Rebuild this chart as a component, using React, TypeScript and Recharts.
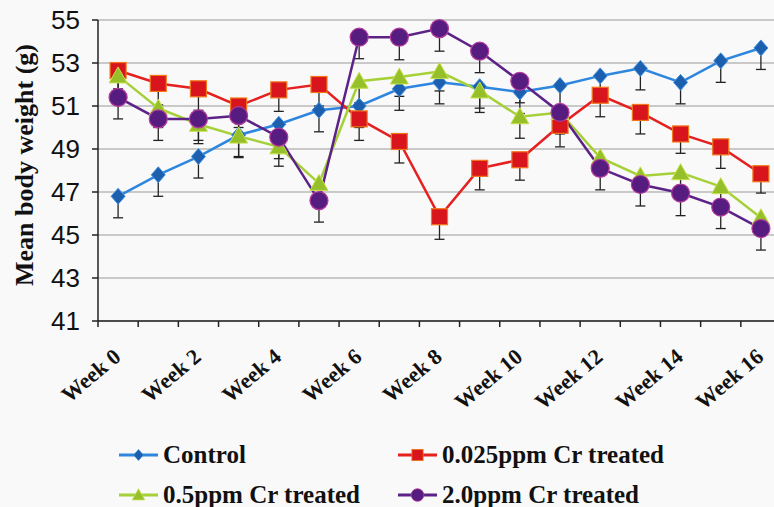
import React from 'react'
import {
  LineChart,
  Line,
  XAxis,
  YAxis,
  CartesianGrid,
  ErrorBar,
  Label,
} from 'recharts'

const weeks = [
  'Week 0', 'Week 1', 'Week 2', 'Week 3', 'Week 4', 'Week 5', 'Week 6', 'Week 7', 'Week 8',
  'Week 9', 'Week 10', 'Week 11', 'Week 12', 'Week 13', 'Week 14', 'Week 15', 'Week 16',
]
const yTicks = [41, 43, 45, 47, 49, 51, 53, 55]

const control = [46.8, 47.8, 48.65, 49.65, 50.15, 50.8, 51.0, 51.8, 52.1, 51.9, 51.65, 51.95, 52.4, 52.75, 52.1, 53.1, 53.7]
const controlErr = [1.0, 1.0, 1.0, 1.0, 1.0, 1.0, 1.0, 1.0, 1.0, 1.0, 1.0, 1.0, 1.0, 1.0, 1.0, 1.0, 1.0]
const cr0025 = [52.65, 52.05, 51.8, 51.0, 51.75, 52.0, 50.4, 49.35, 45.85, 48.1, 48.5, 50.1, 51.5, 50.7, 49.7, 49.1, 47.85]
const cr0025Err = [1.0, 1.0, 1.0, 1.0, 1.0, 1.0, 1.0, 1.0, 1.05, 1.0, 0.95, 1.0, 1.0, 1.0, 0.9, 1.0, 0.9]
const cr05 = [52.4, 50.9, 50.15, 49.6, 49.1, 47.4, 52.15, 52.35, 52.6, 51.7, 50.5, 50.7, 48.6, 47.75, 47.9, 47.25, 45.8]
const cr05Err = [0.6, 0.9, 0.9, 1.0, 0.9, 0.9, 1.0, 0.9, 0.9, 1.0, 1.0, 0.6, 0.6, 0.6, 0.6, 0.6, 0.6]
const cr20 = [51.4, 50.4, 50.4, 50.55, 49.55, 46.6, 54.2, 54.2, 54.6, 53.55, 52.15, 50.7, 48.1, 47.35, 46.95, 46.3, 45.3]
const cr20Err = [1.0, 1.0, 1.0, 1.0, 1.0, 1.0, 1.0, 1.05, 1.05, 1.0, 1.0, 1.0, 1.0, 1.0, 1.05, 1.0, 1.0]

const data = weeks.map((week, i) => ({
  week,
  control: control[i],
  controlErr: [controlErr[i], 0],
  cr0025: cr0025[i],
  cr0025Err: [cr0025Err[i], 0],
  cr05: cr05[i],
  cr05Err: [cr05Err[i], 0],
  cr20: cr20[i],
  cr20Err: [cr20Err[i], 0],
}))

const serif = '"Liberation Serif", "Times New Roman", serif'
const sans = '"Liberation Sans", Arial, sans-serif'

const PLOT_LEFT = 98
const PLOT_RIGHT = 781
const bandWidth = (PLOT_RIGHT - PLOT_LEFT) / weeks.length

const Diamond = (p: any) => {
  const { cx, cy } = p
  if (cx == null || cy == null) return null
  return (
    <polygon
      points={`${cx},${cy - 8} ${cx + 7},${cy} ${cx},${cy + 8} ${cx - 7},${cy}`}
      fill="#1c5fae"
      stroke="#3f90e0"
      strokeWidth={1}
    />
  )
}
const Square = (p: any) => {
  const { cx, cy } = p
  if (cx == null || cy == null) return null
  return <rect x={cx - 8} y={cy - 8} width={16} height={16} fill="#d8141c" stroke="#f2761a" strokeWidth={1.2} />
}
const Triangle = (p: any) => {
  const { cx, cy } = p
  if (cx == null || cy == null) return null
  return (
    <polygon
      points={`${cx},${cy - 9} ${cx + 9},${cy + 7} ${cx - 9},${cy + 7}`}
      fill="#96c02a"
      stroke="#c6e04a"
      strokeWidth={1}
    />
  )
}
const Circle = (p: any) => {
  const { cx, cy } = p
  if (cx == null || cy == null) return null
  return <circle cx={cx} cy={cy} r={9} fill="#561c80" stroke="#b43a9c" strokeWidth={1.2} />
}

const WeekTick = (props: any) => {
  const { x, y, payload } = props
  const bx = x - bandWidth / 2
  return (
    <g>
      <line x1={bx} y1={y} x2={bx} y2={y + 6} stroke="#222" strokeWidth={1.5} />
      {payload.index % 2 === 0 && (
        <text
          transform={`translate(${x + 4},${y + 38}) rotate(-40)`}
          textAnchor="end"
          fontFamily={serif}
          fontWeight="bold"
          fontSize={22}
          fill="#111"
        >
          {payload.value}
        </text>
      )}
    </g>
  )
}

const legendItems = [
  { name: 'Control', color: '#2e86de', Shape: Diamond, left: 118, top: 440 },
  { name: '0.025ppm Cr treated', color: '#e42020', Shape: Square, left: 397, top: 440 },
  { name: '0.5ppm Cr treated', color: '#a6d038', Shape: Triangle, left: 118, top: 480 },
  { name: '2.0ppm Cr treated', color: '#5c2288', Shape: Circle, left: 397, top: 480 },
]

export default function App() {
  return (
    <div
      style={{
        position: 'absolute',
        left: 0,
        top: 0,
        width: 774,
        height: 507,
        overflow: 'hidden',
        background: '#f9f9f9',
      }}
    >
      <LineChart
        width={PLOT_RIGHT}
        height={507}
        data={data}
        margin={{ top: 20, right: 0, left: 0, bottom: 116 }}
      >
        <CartesianGrid vertical={false} stroke="#9a9a9a" strokeWidth={1.2} />
        <XAxis
          dataKey="week"
          scale="band"
          interval={0}
          height={70}
          tick={<WeekTick />}
          tickLine={false}
          tickSize={0}
          tickMargin={0}
          axisLine={{ stroke: '#222', strokeWidth: 1.5 }}
        />
        <YAxis
          domain={[41, 55]}
          ticks={yTicks}
          width={PLOT_LEFT}
          tickSize={6}
          tickMargin={12}
          axisLine={{ stroke: '#222', strokeWidth: 1.5 }}
          tickLine={{ stroke: '#222', strokeWidth: 1.5 }}
          tick={{ fill: '#111', fontSize: 26, fontFamily: sans }}
        >
          <Label
            content={() => (
              <text
                transform="translate(33,165) rotate(-90)"
                textAnchor="middle"
                fontFamily={serif}
                fontWeight="bold"
                fontSize={26}
                fill="#111"
              >
                Mean body weight (g)
              </text>
            )}
          />
        </YAxis>
        <Line dataKey="control" stroke="#2e86de" strokeWidth={2.5} dot={<Diamond />} isAnimationActive={false}>
          <ErrorBar dataKey="controlErr" direction="y" width={5} stroke="#222" strokeWidth={1.3} />
        </Line>
        <Line dataKey="cr0025" stroke="#e42020" strokeWidth={2.5} dot={<Square />} isAnimationActive={false}>
          <ErrorBar dataKey="cr0025Err" direction="y" width={5} stroke="#222" strokeWidth={1.3} />
        </Line>
        <Line dataKey="cr05" stroke="#a6d038" strokeWidth={2.5} dot={<Triangle />} isAnimationActive={false}>
          <ErrorBar dataKey="cr05Err" direction="y" width={5} stroke="#222" strokeWidth={1.3} />
        </Line>
        <Line dataKey="cr20" stroke="#5c2288" strokeWidth={2.5} dot={<Circle />} isAnimationActive={false}>
          <ErrorBar dataKey="cr20Err" direction="y" width={5} stroke="#222" strokeWidth={1.3} />
        </Line>
      </LineChart>
      {legendItems.map(({ name, color, Shape, left, top }) => (
        <div
          key={name}
          style={{ position: 'absolute', left, top, display: 'flex', alignItems: 'center', height: 30 }}
        >
          <svg width={42} height={24} style={{ marginRight: 3 }}>
            <line x1={1} y1={12} x2={40} y2={12} stroke={color} strokeWidth={3} />
            <g transform="translate(20.5,12) scale(0.7) translate(-20.5,-12)">
              <Shape cx={20.5} cy={12} />
            </g>
          </svg>
          <span style={{ fontFamily: serif, fontWeight: 'bold', fontSize: 25, color: '#111', whiteSpace: 'nowrap' }}>
            {name}
          </span>
        </div>
      ))}
    </div>
  )
}
